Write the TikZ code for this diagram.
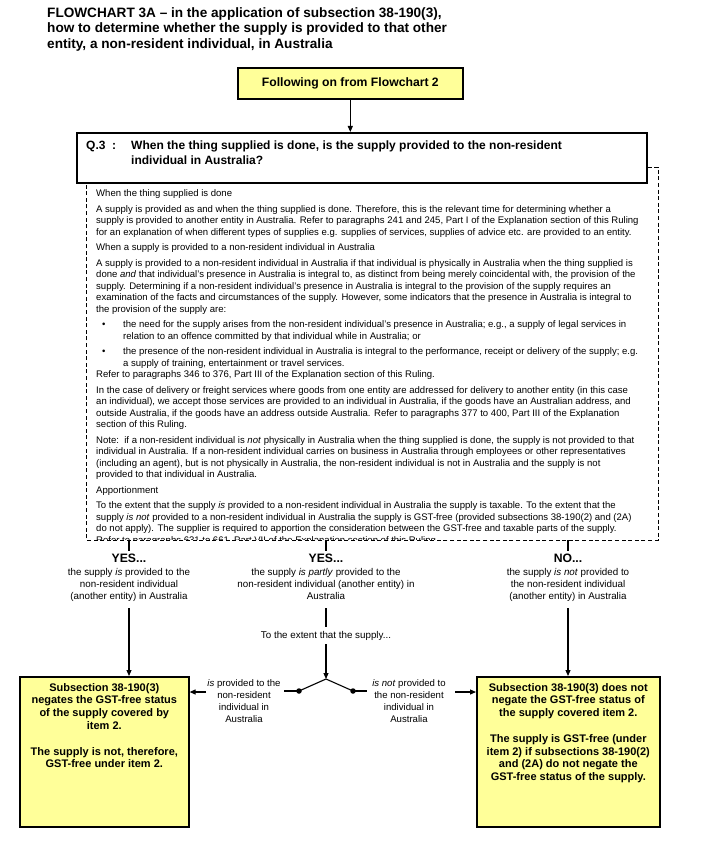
\documentclass[tikz,border=0pt]{standalone}
\usepackage{fontspec}
\setmainfont{Liberation Sans}
\usetikzlibrary{arrows.meta,calc,shadows}
\definecolor{boxyellow}{HTML}{FFFF99}
\newcommand{\fsz}[2]{\fontsize{#1}{#2}\selectfont}
\begin{document}
\begin{tikzpicture}[x=1pt,y=-1pt,
  ybox/.style={draw=black, line width=1.6pt, fill=boxyellow, inner sep=0pt,
    drop shadow={shadow xshift=1.2pt, shadow yshift=-1.2pt, fill=black!45}},
  qbox/.style={draw=black, line width=1.6pt, fill=white, inner sep=0pt,
    drop shadow={shadow xshift=1.2pt, shadow yshift=-1.2pt, fill=black!45}},
  arr/.style={-{Triangle[length=6pt,width=5pt]}, line width=1.1pt},
  conn/.style={line width=1.1pt},
  panelline/.style={dash pattern=on 4pt off 2.6pt, line width=0.7pt},
  titletext/.style={font=\bfseries\fsz{13.6}{15.5}, inner sep=0pt, align=left},
  qtext/.style={font=\bfseries\fsz{12}{14.5}, inner sep=0pt, align=left},
  paneltext/.style={font=\fsz{9.55}{11.5}, inner sep=0pt, align=left},
  lbl/.style={font=\fsz{9.8}{12.3}, inner sep=0pt, align=center},
  sidelbl/.style={font=\fsz{9.6}{12}, inner sep=0pt, align=center},
  yeslbl/.style={font=\bfseries\fsz{12.2}{13}, inner sep=0pt},
  boxtext/.style={font=\bfseries\fsz{11}{12.8}, inner sep=0pt, align=center},
  dotnode/.style={circle, fill=black, inner sep=0pt, minimum size=5.5pt},
]
\useasboundingbox[fill=white] (0,0) rectangle (712,848);

% title
\node[titletext, anchor=north west] (title) at (47,7)
  {FLOWCHART 3A -- in the application of subsection 38-190(3),\\
   how to determine whether the supply is provided to that other\\
   entity, a non-resident individual, in Australia};

% start box
\node[ybox, anchor=north west, minimum width=225pt, minimum height=31pt,
      font=\bfseries\fsz{12.2}{13}] (start) at (237,67) {Following on from Flowchart 2};

% question box
\node[qbox, anchor=north west, minimum width=570pt, minimum height=50pt] (q) at (76,132) {};
\node[qtext, anchor=north west] (qlabel) at (86,141) {Q.3\ \ :};
\node[qtext, anchor=north west] (qquestion) at (131,141)
  {When the thing supplied is done, is the supply provided to the non-resident\\
   individual in Australia?};
\draw[arr] (start.south) -- (start.south |- q.north);

% dashed explanation panel
\coordinate (pTR) at (658,167);
\coordinate (pBR) at (658,540);
\coordinate (pBL) at (86,540);
\draw[panelline] (q.east |- pTR) -- (pTR) -- (pBR) -- (pBL) -- (pBL |- q.south);

\begin{scope}
\clip (87,183) rectangle (657,539.4);
\node[paneltext, anchor=north west] (panel) at (96,189.5) {%
When the thing supplied is done\\[4pt]
A supply is provided as and when the thing supplied is done. Therefore, this is the relevant time for determining whether a\\
supply is provided to another entity in Australia. Refer to paragraphs 241 and 245, Part I of the Explanation section of this Ruling\\
for an explanation of when different types of supplies e.g. supplies of services, supplies of advice etc. are provided to an entity.\\[4pt]
When a supply is provided to a non-resident individual in Australia\\[4pt]
A supply is provided to a non-resident individual in Australia if that individual is physically in Australia when the thing supplied is\\
done \textit{and} that individual's presence in Australia is integral to, as distinct from being merely coincidental with, the provision of the\\
supply. Determining if a non-resident individual's presence in Australia is integral to the provision of the supply requires an\\
examination of the facts and circumstances of the supply. However, some indicators that the presence in Australia is integral to\\
the provision of the supply are:\\[4pt]
\makebox[27pt][l]{\hspace{6pt}\textbullet}the need for the supply arises from the non-resident individual's presence in Australia; e.g., a supply of legal services in\\
\hspace*{27pt}relation to an offence committed by that individual while in Australia; or\\[4pt]
\makebox[27pt][l]{\hspace{6pt}\textbullet}the presence of the non-resident individual in Australia is integral to the performance, receipt or delivery of the supply; e.g.\\
\hspace*{27pt}a supply of training, entertainment or travel services.\\
Refer to paragraphs 346 to 376, Part III of the Explanation section of this Ruling.\\[4pt]
In the case of delivery or freight services where goods from one entity are addressed for delivery to another entity (in this case\\
an individual), we accept those services are provided to an individual in Australia, if the goods have an Australian address, and\\
outside Australia, if the goods have an address outside Australia. Refer to paragraphs 377 to 400, Part III of the Explanation\\
section of this Ruling.\\[4pt]
Note:\ \ if a non-resident individual is \textit{not} physically in Australia when the thing supplied is done, the supply is not provided to that\\
individual in Australia. If a non-resident individual carries on business in Australia through employees or other representatives\\
(including an agent), but is not physically in Australia, the non-resident individual is not in Australia and the supply is not\\
provided to that individual in Australia.\\[4pt]
Apportionment\\[4pt]
To the extent that the supply \textit{is} provided to a non-resident individual in Australia the supply is taxable. To the extent that the\\
supply \textit{is not} provided to a non-resident individual in Australia the supply is GST-free (provided subsections 38-190(2) and (2A)\\
do not apply). The supplier is required to apportion the consideration between the GST-free and taxable parts of the supply.\\
Refer to paragraphs 631 to 661, Part VII of the Explanation section of this Ruling.};
\end{scope}

% three outcomes
\coordinate (s1) at (129,540); \coordinate (s1e) at (129,551);
\coordinate (s2) at (326,540); \coordinate (s2e) at (326,551);
\coordinate (s3) at (568,540); \coordinate (s3e) at (568,551);
\draw[conn] (s1) -- (s1e);
\draw[conn] (s2) -- (s2e);
\draw[conn] (s3) -- (s3e);

\node[yeslbl, anchor=north] (yes1) at (129,554) {YES...};
\node[yeslbl, anchor=north] (yes2) at (326,554) {YES...};
\node[yeslbl, anchor=north] (no3) at (568,554) {NO...};

\node[lbl, anchor=north] (d1) at (129,568)
  {the supply \textit{is} provided to the\\ non-resident individual\\ (another entity) in Australia};
\node[lbl, anchor=north] (d2) at (326,568)
  {the supply \textit{is partly} provided to the\\ non-resident individual (another entity) in\\ Australia};
\node[lbl, anchor=north] (d3) at (568,568)
  {the supply \textit{is not} provided to\\ the non-resident individual\\ (another entity) in Australia};

% result boxes
\node[ybox, anchor=north west, minimum width=169pt, minimum height=150pt] (lbox) at (19,676) {};
\node[boxtext, anchor=north] (lboxt) at (lbox.north |- 0,683)
  {Subsection 38-190(3)\\ negates the GST-free status\\ of the supply covered by\\ item 2.\\[12.8pt]
   The supply is not, therefore,\\ GST-free under item 2.};
\node[ybox, anchor=north west, minimum width=183pt, minimum height=150pt] (rbox) at (476,676) {};
\node[boxtext, anchor=north] (rboxt) at (rbox.north |- 0,683)
  {Subsection 38-190(3) does not\\ negate the GST-free status of\\ the supply covered item 2.\\[12.8pt]
   The supply is GST-free (under\\ item 2) if subsections 38-190(2)\\ and (2A) do not negate the\\ GST-free status of the supply.};

\coordinate (l1) at (129,608);
\draw[arr] (l1) -- (l1 |- lbox.north);
\coordinate (l3) at (568,608);
\draw[arr] (l3) -- (l3 |- rbox.north);

% middle branch
\coordinate (m1) at (326,608); \coordinate (m1e) at (326,627);
\draw[conn] (m1) -- (m1e);
\node[lbl, anchor=north] (ext) at (326,631) {To the extent that the supply...};
\coordinate (m2) at (326,644);
\coordinate (apex) at (326,679);
\draw[arr] (m2) -- (apex);
\node[dotnode] (dl) at (299,691) {};
\node[dotnode] (dr) at (353,691) {};
\draw[conn] (apex) -- (dl.center);
\draw[conn] (apex) -- (dr.center);
\coordinate (hl) at (284,691);
\coordinate (hr) at (367,691);
\draw[conn] (dl.center) -- (hl);
\draw[conn] (dr.center) -- (hr);

\node[sidelbl, anchor=north] (lp) at (244,679)
  {\textit{is} provided to the\\ non-resident\\ individual in\\ Australia};
\node[sidelbl, anchor=north] (rp) at (409,679)
  {\textit{is not} provided to\\ the non-resident\\ individual in\\ Australia};

\coordinate (la) at (206,692);
\draw[arr] (la) -- (la -| lbox.east);
\coordinate (ra) at (455,692);
\draw[arr] (ra) -- (ra -| rbox.west);
\end{tikzpicture}
\end{document}
